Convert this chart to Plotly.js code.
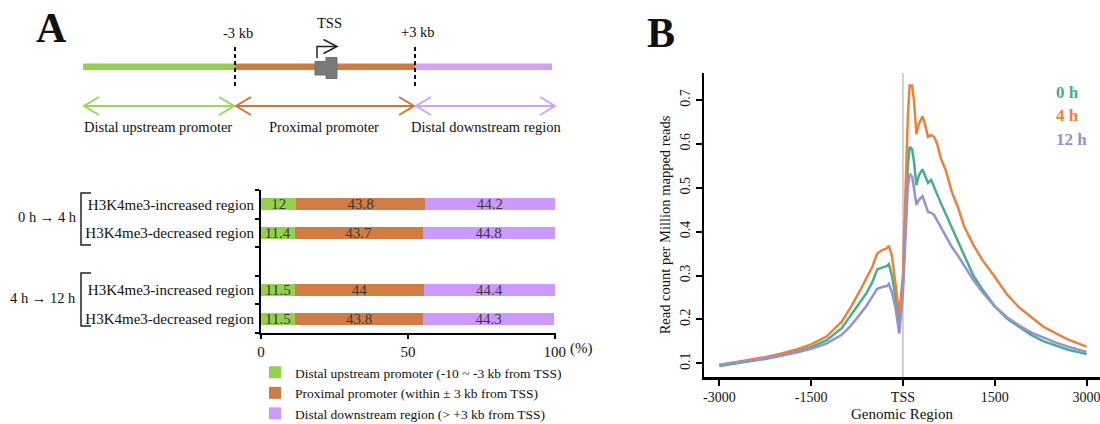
<!DOCTYPE html>
<html>
<head>
<meta charset="utf-8">
<script src="https://cdn.plot.ly/plotly-3.0.1.min.js"></script>
<style>html,body{margin:0;padding:0;background:#fff;}#chart{width:1100px;height:424px;}</style>
</head>
<body>
<div id="chart"></div>
<script>
// ---------- Panel A data ----------
const regionLabels = ['H3K4me3-increased region', 'H3K4me3-decreased region', 'H3K4me3-increased region', 'H3K4me3-decreased region'];
const comparisonLabels = ['0 h \u2192 4 h', '4 h \u2192 12 h'];
const distalUpstream = [12, 11.4, 11.5, 11.5];
const proximalPromoter = [43.8, 43.7, 44, 43.8];
const distalDownstream = [44.2, 44.8, 44.4, 44.3];
const seriesNames = ['Distal upstream promoter (-10 ~ -3 kb from TSS)', 'Proximal promoter (within \u00b1 3 kb from TSS)', 'Distal downstream region (> +3 kb from TSS)'];
const percentTicks = [0, 50, 100];

// ---------- Panel B data ----------
const genomicPos = [-3000, -2750, -2500, -2250, -2000, -1750, -1500, -1250, -1000, -850, -700, -600, -500, -420, -340, -260, -230, -180, -120, -60, 0, 40, 80, 110, 150, 180, 220, 260, 320, 360, 410, 460, 510, 560, 620, 700, 800, 900, 1000, 1150, 1300, 1500, 1700, 1900, 2100, 2300, 2500, 2700, 2850, 3000];
const rpm0h = [0.094, 0.099, 0.104, 0.110, 0.117, 0.126, 0.137, 0.152, 0.180, 0.210, 0.240, 0.259, 0.285, 0.314, 0.318, 0.322, 0.326, 0.300, 0.250, 0.186, 0.280, 0.420, 0.550, 0.593, 0.588, 0.560, 0.506, 0.528, 0.542, 0.528, 0.511, 0.518, 0.500, 0.485, 0.465, 0.440, 0.408, 0.378, 0.345, 0.300, 0.268, 0.230, 0.202, 0.182, 0.164, 0.150, 0.140, 0.131, 0.126, 0.121];
const rpm4h = [0.096, 0.102, 0.108, 0.114, 0.122, 0.131, 0.143, 0.161, 0.195, 0.228, 0.266, 0.292, 0.320, 0.350, 0.358, 0.362, 0.368, 0.345, 0.280, 0.212, 0.300, 0.480, 0.660, 0.733, 0.733, 0.700, 0.622, 0.645, 0.663, 0.645, 0.616, 0.620, 0.616, 0.600, 0.567, 0.540, 0.490, 0.455, 0.412, 0.370, 0.335, 0.297, 0.257, 0.227, 0.204, 0.183, 0.168, 0.154, 0.146, 0.138];
const rpm12h = [0.097, 0.101, 0.106, 0.111, 0.117, 0.124, 0.133, 0.145, 0.165, 0.186, 0.212, 0.230, 0.252, 0.270, 0.274, 0.276, 0.281, 0.262, 0.225, 0.168, 0.260, 0.390, 0.500, 0.532, 0.525, 0.500, 0.461, 0.472, 0.481, 0.465, 0.445, 0.443, 0.438, 0.425, 0.410, 0.390, 0.365, 0.345, 0.322, 0.290, 0.262, 0.230, 0.205, 0.186, 0.170, 0.158, 0.147, 0.138, 0.132, 0.126];
const timeLabels = ['0 h', '4 h', '12 h'];
const profileTickVals = [-3000, -1500, 0, 1500, 3000];
const profileTickText = ['-3000', '-1500', 'TSS', '1500', '3000'];
const rpmTicks = [0.1, 0.2, 0.3, 0.4, 0.5, 0.6, 0.7];

// ---------- helpers ----------
const W = 1100, H = 424;
const SERIF = 'Liberation Serif, Times New Roman, serif';
const PX = v => v / W;
const PY = v => 1 - v / H;
function pathPx(pts) { return pts.map((p, i) => (i ? 'L' : 'M') + PX(p[0]).toFixed(5) + ',' + PY(p[1]).toFixed(5)).join(' '); }

// bar rows: leave one empty slot between the two comparison groups
const rowPos = regionLabels.map((_, i) => (i < 2 ? i : i + 1));
const barColors = ['#92D050', '#D07C45', '#CC99FF'];
const lineColors = ['#46AF8C', '#EB823C', '#9691D2'];

const barSeries = [distalUpstream, proximalPromoter, distalDownstream];
const traces = barSeries.map((vals, k) => ({
  type: 'bar', orientation: 'h', x: vals, y: rowPos, name: seriesNames[k],
  width: 0.42, marker: {color: barColors[k], line: {width: 0}},
  text: vals.map(String), textposition: 'inside', insidetextanchor: 'middle', textangle: 0,
  constraintext: 'none', textfont: {family: SERIF, size: 15, color: '#3a3a3a'},
  hoverinfo: 'skip', xaxis: 'x', yaxis: 'y', showlegend: true
}));

[rpm0h, rpm4h, rpm12h].forEach((vals, k) => traces.push({
  type: 'scatter', mode: 'lines', x: genomicPos, y: vals, name: timeLabels[k],
  line: {color: lineColors[k], width: 2.5}, xaxis: 'x2', yaxis: 'y2', showlegend: false, hoverinfo: 'skip'
}));

// ---------- schematic shapes (pixel layout, converted to paper) ----------
const shapes = [];
const segX = [83, 235, 415, 552];
const segCol = ['#92D050', '#D07A3F', '#D0A2F8'];
const arrowCol = ['#9AD660', '#D2733A', '#CFA3F7'];
for (let i = 0; i < 3; i++) {
  shapes.push({type: 'line', xref: 'paper', yref: 'paper', x0: PX(segX[i]), x1: PX(segX[i + 1]), y0: PY(66.7), y1: PY(66.7), line: {color: segCol[i], width: 6.5}});
  const a = segX[i] + 1, b = segX[i + 1] + (i === 2 ? 3 : -1), yy = 106;
  shapes.push({type: 'line', xref: 'paper', yref: 'paper', x0: PX(a), x1: PX(b), y0: PY(yy), y1: PY(yy), line: {color: arrowCol[i], width: 2}});
  shapes.push({type: 'path', xref: 'paper', yref: 'paper', path: pathPx([[a + 15, yy - 9], [a, yy], [a + 15, yy + 9]]), line: {color: arrowCol[i], width: 2}});
  shapes.push({type: 'path', xref: 'paper', yref: 'paper', path: pathPx([[b - 15, yy - 9], [b, yy], [b - 15, yy + 9]]), line: {color: arrowCol[i], width: 2}});
}
[235, 415].forEach(x => shapes.push({type: 'line', xref: 'paper', yref: 'paper', x0: PX(x), x1: PX(x), y0: PY(47), y1: PY(87), line: {color: '#111', width: 2, dash: '4px,3px'}}));
// gene box
shapes.push({type: 'path', xref: 'paper', yref: 'paper', path: pathPx([[315, 61.5], [326, 61.5], [326, 57.5], [337, 57.5], [337, 78.5], [326, 78.5], [326, 75], [315, 75]]) + ' Z', fillcolor: '#7a7a7a', line: {color: '#707070', width: 1}});
// bent TSS arrow
shapes.push({type: 'path', xref: 'paper', yref: 'paper', path: pathPx([[317, 58], [317, 46.5], [336, 46.5]]), line: {color: '#222', width: 1.5}});
shapes.push({type: 'path', xref: 'paper', yref: 'paper', path: pathPx([[323.5, 39.5], [337, 46.5], [323.5, 53.5]]), line: {color: '#222', width: 1.5}});
// brackets
[[193, 245], [273, 326]].forEach(r => shapes.push({type: 'path', xref: 'paper', yref: 'paper', path: pathPx([[91, r[0]], [81, r[0]], [81, r[1]], [91, r[1]]]), line: {color: '#222', width: 1.5}}));
// TSS reference line in panel B
shapes.push({type: 'line', xref: 'x2', yref: 'y2 domain', x0: 0, x1: 0, y0: 0, y1: 1, line: {color: '#cfcfcf', width: 2}, layer: 'below'});

// ---------- annotations ----------
const ann = [];
function txt(text, x, y, size, opts) {
  ann.push(Object.assign({text: text, xref: 'paper', yref: 'paper', x: PX(x), y: PY(y), xanchor: 'center', yanchor: 'middle', showarrow: false, font: {family: SERIF, size: size, color: '#111'}}, opts || {}));
}
txt('<b>A</b>', 51, 28, 42);
txt('<b>B</b>', 661, 33, 42);
txt('-3 kb', 238, 33, 14.5);
txt('+3 kb', 418, 32, 14.5);
txt('TSS', 329, 23, 14.5);
txt('Distal upstream promoter', 158, 127, 14.5);
txt('Proximal promoter', 324, 127, 14.5);
txt('Distal downstream region', 486, 127, 14.5);
txt(comparisonLabels[0], 47, 217, 14.5);
txt(comparisonLabels[1], 42.5, 298, 14.5);
txt('(%)', 568, 348, 15, {xanchor: 'left'});
timeLabels.forEach((t, k) => txt('<b>' + t + '</b>', 1054, [92, 115, 139][k], 17, {xanchor: 'left', font: {family: SERIF, size: 17, color: lineColors[k]}}));

const layout = {
  width: W, height: H, margin: {l: 0, r: 0, t: 0, b: 0, autoexpand: false}, paper_bgcolor: '#fff', plot_bgcolor: 'rgba(0,0,0,0)',
  font: {family: SERIF, size: 15, color: '#111'},
  barmode: 'stack', bargap: 0,
  showlegend: true,
  legend: {x: PX(255), y: PY(357), xanchor: 'left', yanchor: 'top', traceorder: 'normal', font: {family: SERIF, size: 13.5, color: '#111'}, bgcolor: 'rgba(0,0,0,0)', tracegroupgap: 0, itemclick: false, itemdoubleclick: false},
  xaxis: {domain: [PX(261), PX(556)], range: [0, 100.4], anchor: 'y', showline: true, linecolor: '#000', linewidth: 2, showgrid: false, zeroline: false,
    tickmode: 'array', tickvals: percentTicks, ticktext: percentTicks.map(String), ticks: 'outside', ticklen: 4, tickwidth: 2, tickcolor: '#000', ticklabeloverflow: 'allow', tickfont: {family: SERIF, size: 15, color: '#111'}, fixedrange: true},
  yaxis: {domain: [PY(333), PY(190)], range: [4.5, -0.5], anchor: 'x', showline: true, linecolor: '#000', linewidth: 2, showgrid: false, zeroline: false,
    tickmode: 'array', tickvals: rowPos, ticktext: regionLabels, ticks: '', ticklabelstandoff: 2, ticklabeloverflow: 'allow', tickfont: {family: SERIF, size: 15, color: '#111'},
    minor: {ticks: 'outside', tick0: 0.5, dtick: 1, ticklen: 4, tickwidth: 2, tickcolor: '#000', showgrid: false}, fixedrange: true},
  xaxis2: {domain: [PX(704), 1], range: [-3250, 3220], anchor: 'y2', showline: true, linecolor: '#000', linewidth: 2.5, showgrid: false, zeroline: false,
    tickmode: 'array', tickvals: profileTickVals, ticktext: profileTickText, ticks: 'outside', ticklen: 6, tickwidth: 2, tickcolor: '#000', ticklabeloverflow: 'allow', tickfont: {family: SERIF, size: 14, color: '#111'},
    title: {text: 'Genomic Region', font: {family: SERIF, size: 15, color: '#111'}, standoff: 4}, fixedrange: true},
  yaxis2: {domain: [PY(377), PY(73)], range: [0.0688, 0.7615], anchor: 'x2', showline: true, linecolor: '#000', linewidth: 2.5, showgrid: false, zeroline: false,
    tickmode: 'array', tickvals: rpmTicks, ticktext: rpmTicks.map(v => v.toFixed(1)), tickangle: -90, ticks: 'outside', ticklen: 6, tickwidth: 2, tickcolor: '#000', ticklabeloverflow: 'allow', tickfont: {family: SERIF, size: 14, color: '#111'},
    title: {text: 'Read count per Million mapped reads', font: {family: SERIF, size: 14.5, color: '#111'}, standoff: 4}, fixedrange: true},
  shapes: shapes,
  annotations: ann
};

Plotly.newPlot('chart', traces, layout, {displayModeBar: false, staticPlot: true});
</script>
</body>
</html>
